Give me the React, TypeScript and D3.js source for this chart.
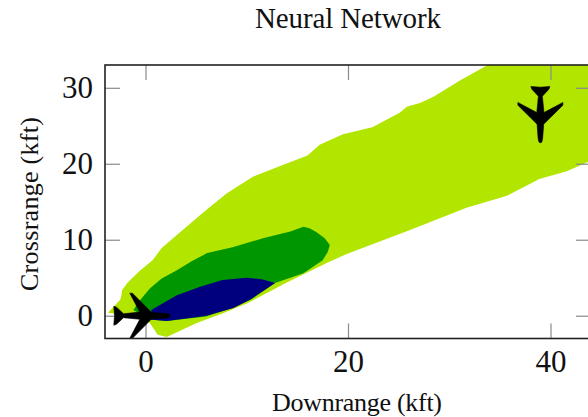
import * as d3 from 'd3';
import React, { useRef, useEffect } from 'react';

const xTicks = [0, 20, 40];
const yTicks = [0, 10, 20, 30];

// safety regions, [downrange, crossrange] in kft
const lightRegion: [number, number][] = [
  [-3.7, 0.4], [-2.5, 2.1], [-2.4, 2.6], [-2.3, 3.4], [-1.8, 4.3], [-1.2, 5.1], [-0.5, 6.0], [0.7, 7.3], [1.6, 8.9], [3.7, 11.3],
  [5.7, 13.6], [8.0, 16.1], [10.6, 18.3], [13.3, 19.7], [16.0, 21.1], [17.2, 22.5], [19.5, 23.9],
  [22.4, 24.8], [25.1, 26.7], [25.8, 27.5], [27.1, 28.0], [28.4, 28.8], [31.1, 31.0], [33.8, 33.0],
  [36, 35], [46, 35], [46, 21.6], [41.6, 19.0], [38.9, 18.0], [35.7, 15.8], [31.7, 14.2], [26.0, 11.2],
  [20.0, 8.2], [18.0, 7.0], [14.0, 4.4], [10.0, 1.6], [7.6, 0.3], [5.0, -1.0], [2.1, -2.8], [1.2, -2.5],
  [0.4, -0.9], [-0.6, -0.4], [-1.5, 0.0],
];
const midRegion: [number, number][] = [
  [-1.2, 0.75], [-0.5, 2.1], [0.45, 3.6], [1.6, 4.9], [3.1, 6.0], [4.6, 7.2], [6.1, 8.25], [8.6, 9.0], [11.6, 10.2], [14.3, 11.1],
  [15.6, 11.7], [16.2, 11.5], [16.9, 11.0], [17.7, 10.2], [18.2, 9.3], [18.0, 8.4], [17.5, 7.3],
  [15.6, 5.6], [12.8, 4.3], [10.4, 2.1], [8.5, 1.0], [6.0, -0.1], [2.1, -0.7], [0.4, -0.5],
];
const coreRegion: [number, number][] = [
  [0.6, 0.8], [3.1, 2.7], [5.4, 3.8], [7.6, 4.7], [10.0, 5.0], [11.5, 4.8], [12.8, 4.3], [10.3, 2.1], [8.7, 1.0],
  [6.0, 0.0], [2.1, -0.7], [0.4, -0.5],
];

// aircraft: position in kft, heading in degrees (0 = nose along +downrange)
const aircraftX = [0, 39];
const aircraftY = [0, 26];
const aircraftHeading = [0, 90];

// half outline of the airplane glyph, nose to tail, mirrored below
const planeHalf: [number, number][] = [
  [24.5, 0], [24, 1.4], [20, 2.3], [6, 3.3], [-13, 22.5], [-15.7, 22.5], [-5.7, 3.6], [-22, 2],
  [-29, 8.5], [-31.7, 9.5], [-31, 0],
];

const width = 588;
const height = 417;
const marginTop = 65;
const marginBottom = 78.5;
const marginLeft = 105;
const plotRight = 591;

export default function App() {
  const svgRef = useRef<SVGSVGElement>(null);

  useEffect(() => {
    if (!svgRef.current) return;
    const svg = d3.select(svgRef.current);
    svg.selectAll('*').remove();

    const x = d3.scaleLinear().domain([-4, 44]).range([marginLeft, plotRight]);
    const y = d3.scaleLinear().domain([-3, 33]).range([height - marginBottom, marginTop]);
    const font = '"Liberation Serif", serif';

    svg.append('defs').append('clipPath').attr('id', 'plot')
      .append('rect')
      .attr('x', marginLeft).attr('y', marginTop)
      .attr('width', plotRight - marginLeft).attr('height', height - marginBottom - marginTop);

    // regions
    const area = d3.line<[number, number]>().x(d => x(d[0])).y(d => y(d[1])).curve(d3.curveLinearClosed);
    const regions = svg.append('g').attr('clip-path', 'url(#plot)');
    regions.append('path').attr('d', area(lightRegion)).attr('fill', '#b2e600');
    regions.append('path').attr('d', area(midRegion)).attr('fill', '#009600');
    regions.append('path').attr('d', area(coreRegion)).attr('fill', '#00007f');

    // ticks on all four sides
    const tickLen = 15;
    const addAxis = (g: any, axis: any) => {
      g.call(axis);
      g.select('.domain').remove();
      g.selectAll('.tick line').attr('stroke', '#8a8a8a').attr('stroke-width', 1.2);
      g.selectAll('text').attr('font-family', font).attr('font-size', 31).attr('fill', '#111');
    };
    addAxis(
      svg.append('g').attr('transform', `translate(0,${height - marginBottom})`),
      d3.axisBottom(x).tickValues(xTicks).tickSize(-tickLen).tickPadding(11),
    );
    addAxis(
      svg.append('g').attr('transform', `translate(0,${marginTop})`),
      d3.axisTop(x).tickValues(xTicks).tickSize(-tickLen).tickFormat(() => ''),
    );
    addAxis(
      svg.append('g').attr('transform', `translate(${marginLeft},0)`),
      d3.axisLeft(y).tickValues(yTicks).tickSize(-tickLen).tickPadding(12),
    );
    addAxis(
      svg.append('g').attr('transform', `translate(${plotRight},0)`),
      d3.axisRight(y).tickValues(yTicks).tickSize(-tickLen).tickFormat(() => ''),
    );

    // airplanes
    const outline = [...planeHalf, ...planeHalf.slice(1, -1).reverse().map(([a, b]) => [a, -b] as [number, number])];
    const plane = d3.line().curve(d3.curveLinearClosed)(outline);
    aircraftX.forEach((ax, i) => {
      svg.append('path')
        .attr('d', plane)
        .attr('fill', '#000')
        .attr('stroke', '#000').attr('stroke-width', 0.6)
        .attr('transform', `translate(${x(ax)},${y(aircraftY[i])}) rotate(${aircraftHeading[i]})`);
    });

    // frame
    svg.append('rect')
      .attr('x', marginLeft).attr('y', marginTop)
      .attr('width', plotRight - marginLeft).attr('height', height - marginBottom - marginTop)
      .attr('fill', 'none').attr('stroke', '#222').attr('stroke-width', 1.6);

    // labels
    const label = (text: string, size: number, length: number) =>
      svg.append('text').text(text)
        .attr('font-family', font).attr('font-size', size).attr('fill', '#111')
        .attr('text-anchor', 'middle')
        .attr('textLength', length).attr('lengthAdjust', 'spacing');
    label('Neural Network', 29, 186).attr('x', 348).attr('y', 28);
    label('Downrange (kft)', 26, 170).attr('x', 357).attr('y', 411);
    label('Crossrange (kft)', 26, 174).attr('transform', 'translate(38,204) rotate(-90)');
  }, []);

  return (
    <svg ref={svgRef} width={width} height={height} viewBox={`0 0 ${width} ${height}`}
      style={{ position: 'absolute', left: 0, top: 0, background: 'white' }} />
  );
}
